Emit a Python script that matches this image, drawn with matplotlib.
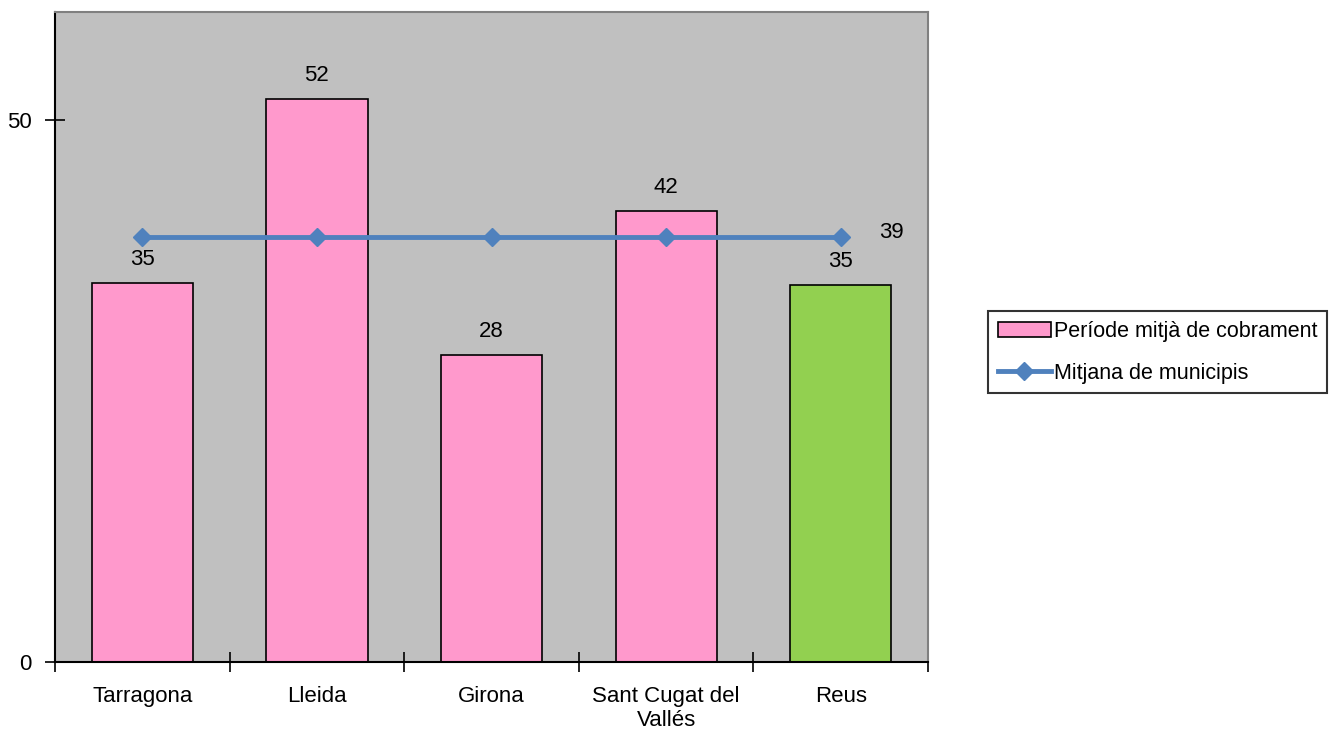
import numpy as np
from matplotlib import pyplot as plt

categories = ['Tarragona', 'Lleida', 'Girona', 'Sant Cugat del\nVallés', 'Reus']
periode = [35.0, 52.0, 28.3, 41.6, 34.8]
periode_labels = ['35', '52', '28', '42', '35']
mitjana = [39.2, 39.2, 39.2, 39.2, 39.2]
mitjana_label = '39'

bar_colors = ['#FF99CC', '#FF99CC', '#FF99CC', '#FF99CC', '#92D050']

plt.rcParams['font.family'] = ['Liberation Sans', 'DejaVu Sans']

fig = plt.figure(figsize=(13.35, 7.31), dpi=100)
ax = fig.add_axes([0.0412, 0.0944, 0.654, 0.889])
ax.set_facecolor('#C0C0C0')

x = np.arange(len(categories))
bars = ax.bar(x, periode, width=0.58, color=bar_colors, edgecolor='black', linewidth=1.2,
              label='Període mitjà de cobrament', zorder=2)
line, = ax.plot(x, mitjana, color='#4F81BD', linewidth=3.5, marker='D', markersize=9,
                label='Mitjana de municipis', zorder=3)

for xi, v, lab in zip(x, periode, periode_labels):
    ax.text(xi, v + 1.2, lab, ha='center', va='bottom', fontsize=16)
ax.text(x[-1] + 0.22, mitjana[-1] + 0.5, mitjana_label, ha='left', va='center', fontsize=16)

ax.set_xlim(-0.5, len(categories) - 0.5)
ax.set_ylim(0, 60)
ax.set_yticks([0, 50])
ax.set_xticks(np.arange(-0.5, len(categories), 1.0))
ax.set_xticklabels([])
ax.set_xticks(x, minor=True)
ax.set_xticklabels(categories, minor=True, fontsize=16, linespacing=1.2)
ax.tick_params(axis='x', which='minor', length=0, pad=17)
ax.tick_params(axis='x', which='major', direction='inout', length=14, width=1.2)
ax.tick_params(axis='y', direction='inout', length=14, width=1.2, labelsize=16, pad=10)

for s in ['left', 'bottom']:
    ax.spines[s].set_color('black')
    ax.spines[s].set_linewidth(1.5)
for s in ['top', 'right']:
    ax.spines[s].set_color('#808080')
    ax.spines[s].set_linewidth(1.5)

leg = fig.legend([bars, line], ['Període mitjà de cobrament', 'Mitjana de municipis'],
                 loc='center left', bbox_to_anchor=(0.740, 0.518), fontsize=15.5,
                 frameon=True, fancybox=False, edgecolor='black', borderpad=0.45,
                 handlelength=2.5, handletextpad=0.1, labelspacing=0.95, borderaxespad=0)
leg.get_frame().set_linewidth(1.5)

fig.savefig('out.png', dpi=100)
